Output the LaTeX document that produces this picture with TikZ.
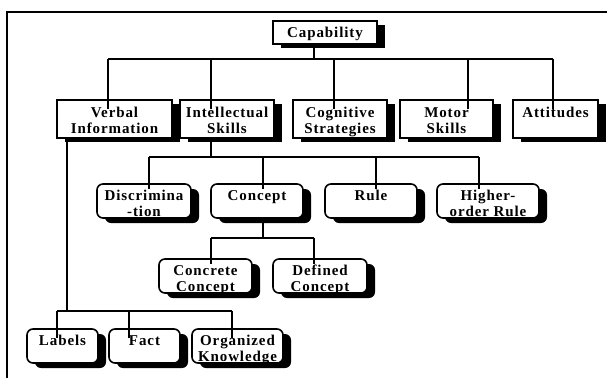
\documentclass[tikz,border=0pt]{standalone}
\usepackage{fontspec}
\newfontfamily\boxfont{Liberation Serif}[LetterSpace=6]
\usetikzlibrary{shadows}
\newcommand{\boxtext}[4][17pt]{\parbox[c][#3][t]{#2}{\centering\boxfont\bfseries\fontsize{15}{16}\selectfont\rule{0pt}{#1}#4\par}}
\tikzset{
  conn/.style={line width=1.4pt},
  sqbox/.style={draw, line width=1.6pt, fill=white, inner sep=0pt,
    drop shadow={shadow xshift=8pt, shadow yshift=-4pt, opacity=1, fill=black}},
  rbox/.style={draw, line width=1.6pt, fill=white, inner sep=0pt, rounded corners=6pt,
    drop shadow={shadow xshift=8pt, shadow yshift=-5pt, opacity=1, fill=black}},
}
\begin{document}
\begin{tikzpicture}[x=1pt,y=-1pt]
\useasboundingbox (0,0) rectangle (607,378);
\draw[line width=1.4pt] (7,378) -- (7,12) -- (607,12);

% top
\node[sqbox] (cap) at (325,32.5) {\boxtext[16pt]{104pt}{23pt}{Capability}};
% second row
\node[sqbox] (verbal) at (114.5,119) {\boxtext{115pt}{38pt}{Verbal\\Information}};
\node[sqbox] (intel) at (227,119) {\boxtext{94pt}{38pt}{Intellectual\\Skills}};
\node[sqbox] (cog) at (340,119) {\boxtext{94pt}{38pt}{Cognitive\\Strategies}};
\node[sqbox] (motor) at (446.5,119) {\boxtext{93pt}{38pt}{Motor\\Skills}};
\node[sqbox] (att) at (555.5,119) {\boxtext{85pt}{38pt}{Attitudes}};
% third row
\node[rbox] (discr) at (144,201) {\boxtext[16pt]{94pt}{34pt}{Discrimina\\-tion}};
\node[rbox] (concept) at (257,201) {\boxtext[16pt]{92pt}{34pt}{Concept}};
\node[rbox] (rule) at (371,201) {\boxtext[16pt]{92pt}{34pt}{Rule}};
\node[rbox] (higher) at (488,201) {\boxtext[16pt]{102pt}{34pt}{Higher-\\order Rule}};
% concept children
\node[rbox] (concrete) at (205.5,276) {\boxtext[16pt]{93pt}{34pt}{Concrete\\Concept}};
\node[rbox] (defined) at (320,276) {\boxtext[16pt]{94pt}{34pt}{Defined\\Concept}};
% verbal children
\node[rbox] (labels) at (62.5,346) {\boxtext[16pt]{71pt}{34pt}{Labels}};
\node[rbox] (fact) at (144.5,346) {\boxtext[16pt]{71pt}{34pt}{Fact}};
\node[rbox] (org) at (237.5,346) {\boxtext[16pt]{91pt}{34pt}{Organized\\Knowledge}};

% connectors: capability
\coordinate (capb) at (314,59);
\coordinate (b1) at (108,59);
\coordinate (b2) at (211,59);
\coordinate (b3) at (334,59);
\coordinate (b4) at (468,59);
\coordinate (b5) at (553,59);
\draw[conn] (cap.south -| capb) -- (capb);
\draw[conn] (b1) -- (b5);
\draw[conn] (b1) -- (b1 |- verbal.north) -- ++(0,10);
\draw[conn] (b2) -- (b2 |- intel.north) -- ++(0,10);
\draw[conn] (b3) -- (b3 |- cog.north) -- ++(0,10);
\draw[conn] (b4) -- (b4 |- motor.north) -- ++(0,10);
\draw[conn] (b5) -- (b5 |- att.north) -- ++(0,10);

% intellectual skills
\coordinate (ib) at (211,157);
\coordinate (i1) at (149,157);
\coordinate (i2) at (263,157);
\coordinate (i3) at (376,157);
\coordinate (i4) at (479,157);
\draw[conn] (intel.south -| ib) -- (ib);
\draw[conn] (i1) -- (i4);
\draw[conn] (i1) -- (i1 |- discr.north) -- ++(0,6);
\draw[conn] (i2) -- (i2 |- concept.north) -- ++(0,6);
\draw[conn] (i3) -- (i3 |- rule.north) -- ++(0,6);
\draw[conn] (i4) -- (i4 |- higher.north) -- ++(0,6);

% concept
\coordinate (cb) at (263,238);
\coordinate (c1) at (211,238);
\coordinate (c2) at (314,238);
\draw[conn] (concept.south -| cb) -- (cb);
\draw[conn] (c1) -- (c2);
\draw[conn] (c1) -- (c1 |- concrete.north) -- ++(0,6);
\draw[conn] (c2) -- (c2 |- defined.north) -- ++(0,6);

% verbal information
\coordinate (vb) at (67,311);
\coordinate (v1) at (57,311);
\coordinate (v2) at (129,311);
\coordinate (v3) at (232,311);
\draw[conn] (verbal.south -| vb) -- (vb);
\draw[conn] (v1) -- (v3);
\draw[conn] (v1) -- (v1 |- labels.north) -- ++(0,10);
\draw[conn] (v2) -- (v2 |- fact.north) -- ++(0,10);
\draw[conn] (v3) -- (v3 |- org.north) -- ++(0,10);
\end{tikzpicture}
\end{document}
